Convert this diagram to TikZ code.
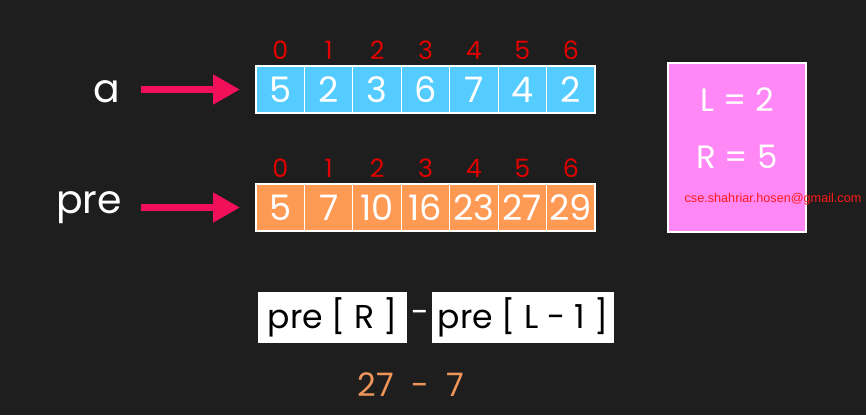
\documentclass[tikz,border=0pt]{standalone}
\usepackage{fontspec}
\setmainfont{Poppins}
\newfontfamily\mailfont{Liberation Sans}
\usetikzlibrary{arrows.meta, positioning, calc}
\definecolor{bgdark}{HTML}{1E1E1E}
\definecolor{cellblue}{HTML}{55CCFF}
\definecolor{cellorange}{HTML}{FF9A55}
\definecolor{idxred}{HTML}{E00000}
\definecolor{ptrpink}{HTML}{F2105A}
\definecolor{boxpink}{HTML}{FF88F6}
\definecolor{mailred}{HTML}{FF1A1A}
\definecolor{numorange}{HTML}{F0955A}

\begin{document}
\begin{tikzpicture}[
    x=0.025cm, y=-0.025cm,
    cell/.style ={draw=white, line width=0.8pt, inner sep=0pt,
                  minimum width=1.21cm, minimum height=1.175cm,
                  text=white, font=\fontsize{25}{25}\selectfont},
    acell/.style={cell, fill=cellblue},
    pcell/.style={cell, fill=cellorange},
    idx/.style  ={text=idxred, inner sep=0pt, font=\fontsize{18}{18}\selectfont},
    arrname/.style={text=white, inner sep=0pt, anchor=base east,
                  font=\fontsize{28}{28}\selectfont},
    ptr/.style  ={-{Triangle[length=19pt, width=20pt]}, line width=5pt,
                  draw=ptrpink, shorten >=11pt},
    query/.style={text=white, inner sep=0pt, font=\fontsize{23}{23}\selectfont},
    expr/.style ={fill=white, text=black, inner sep=0pt, minimum height=1.275cm,
                  font=\fontsize{23.5}{23.5}\selectfont},
]
% background
\fill[bgdark] (0,0) rectangle (866,415);
% array a with its indices
\foreach \v [count=\i from 0] in {5,2,3,6,7,4,2} {
  \node[acell] (a\i) at (280.2+48.43*\i, 89.5) {\v};
  \node[idx] (ai\i) at (280.2+48.43*\i, 50.5) {\i};
}
% prefix array with its indices
\foreach \v [count=\i from 0] in {5,7,10,16,23,27,29} {
  \node[pcell] (p\i) at (280.2+48.43*\i, 207.5) {\v};
  \node[idx] (pi\i) at (280.2+48.43*\i, 168.5) {\i};
}
% array names and pointers
\node[arrname] (la) at (120,102) {a};
\node[arrname] (lp) at (122,213) {pre};
\coordinate (atail) at (141,89.5);
\coordinate (ptail) at (141,207.5);
\draw[ptr] (atail) -- (a0.west);
\draw[ptr] (ptail) -- (p0.west);
% query range
\node[draw=white, line width=1.2pt, fill=boxpink,
      minimum width=3.45cm, minimum height=4.225cm] (range) at (737,147.5) {};
\node[query] (lval) at (737,100) {L = 2};
\node[query] (rval) at (737,157) {R = 5};
\node[text=mailred, inner sep=0pt, font=\mailfont\fontsize{9}{9}\selectfont]
     (mail) at (773,199) {cse.shahriar.hosen@gmail.com};
% range sum formula
\node[expr, minimum width=3.725cm] (preR) at (332.5,317.5) {pre [ R ]};
\node[expr, minimum width=4.55cm] (preL) at (523,317.5) {pre [ L - 1 ]};
\node[text=white, inner sep=0pt, font=\fontsize{23}{23}\selectfont]
     (minus) at (420,317) {-};
\node[text=numorange, inner sep=0pt, font=\fontsize{23}{23}\selectfont]
     (res) at (411,385) {27 \ - \ 7};
\end{tikzpicture}
\end{document}
